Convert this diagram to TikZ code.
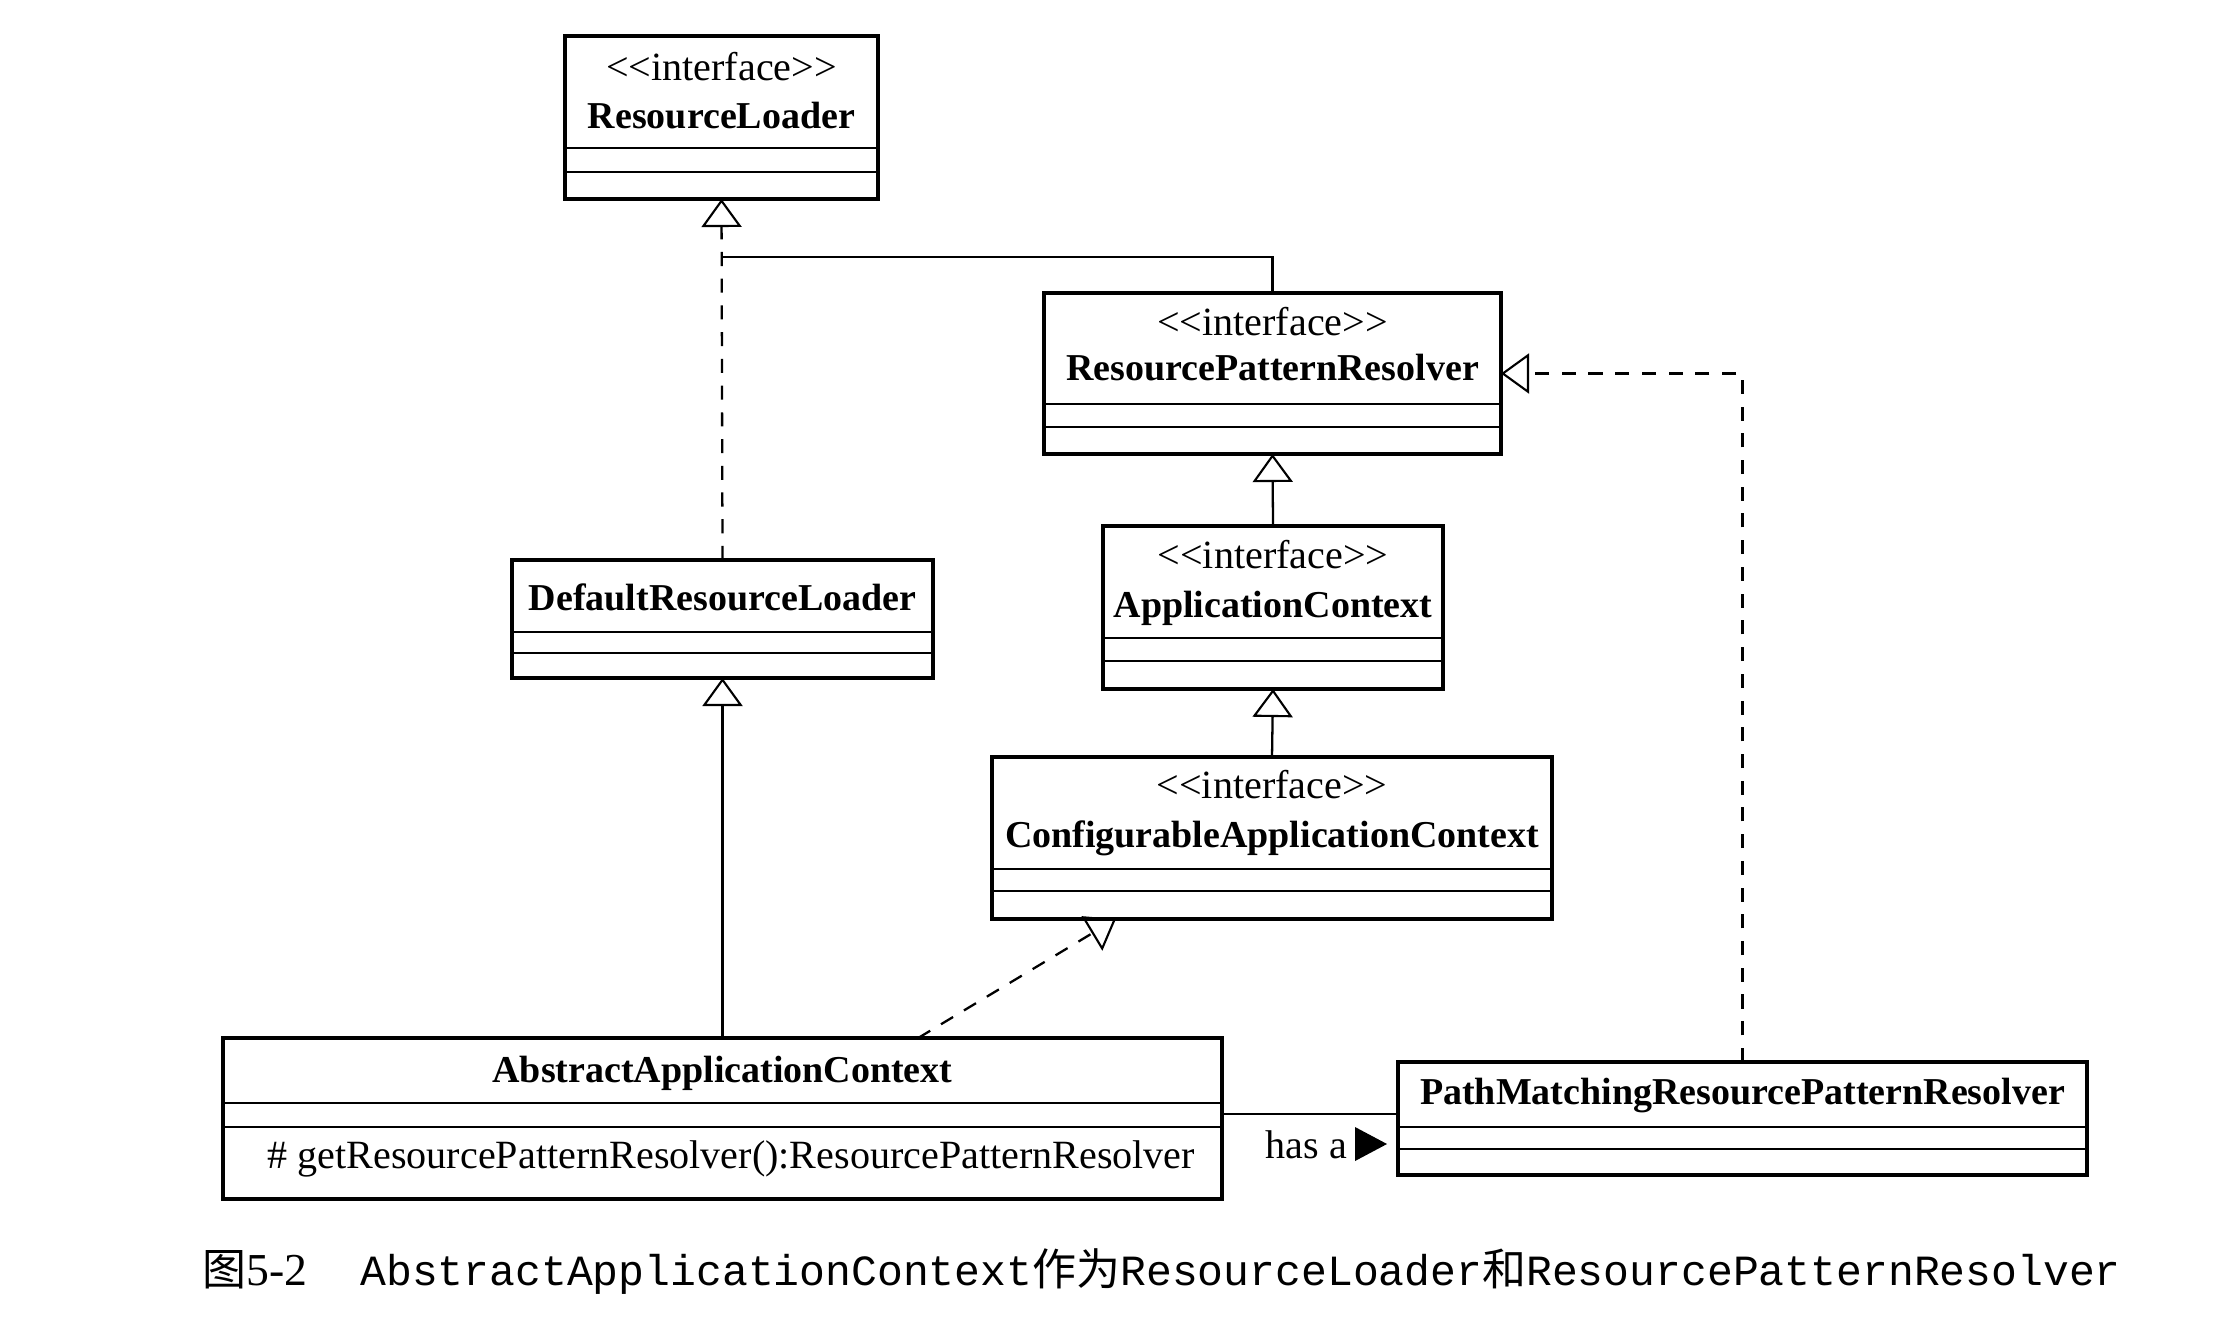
\documentclass[tikz,border=0pt]{standalone}
\usepackage{fontspec}
\setmainfont{Liberation Serif}
\setmonofont{Liberation Mono}
\newfontfamily\cjkfont{Noto Sans CJK SC}
\usetikzlibrary{arrows.meta}

\tikzset{
  classbox/.style={draw, line width=0.95pt, inner sep=0pt, outer sep=0pt},
  divider/.style={line width=0.5pt},
  link/.style={line width=0.65pt},
  dashlink/.style={link, dash pattern=on 4pt off 3.6pt},
  inherit/.style={-{Triangle[open, length=0.28cm, width=0.40cm, line width=0.6pt]}},
  stereo/.style={font=\fontsize{11.4}{13}\selectfont, anchor=base, inner sep=0pt},
  cname/.style={font=\bfseries\fontsize{10.8}{13}\selectfont, anchor=base, inner sep=0pt},
  member/.style={font=\fontsize{11.4}{13}\selectfont, anchor=base west, inner sep=0pt},
}

% class box: name, x1, y1, x2, y2, first divider y, second divider y
\newcommand\umlbox[7]{%
  \node[classbox, minimum width={(#4-#2)*0.01cm}, minimum height={(#5-#3)*0.01cm}]
    (#1) at ({(#2+#4)/2},{(#3+#5)/2}) {};
  \draw[divider] (#2,#6) -- (#4,#6);
  \draw[divider] (#2,#7) -- (#4,#7);
}
% kerns keep the doubled angle brackets from turning into guillemets
\newcommand\stereotype{\textless\kern0pt\textless\kern0pt interface\kern0pt\textgreater\kern0pt\textgreater}

\begin{document}
\begin{tikzpicture}[x=0.01cm, y=-0.01cm]
\useasboundingbox (0,0) rectangle (2231,1321);

% classes
\umlbox{rl}{565}{36}{878}{199}{148}{172}
\node[stereo] (rl-st) at (721.5,80) {\stereotype};
\node[cname] (rl-nm) at (721.5,128) {ResourceLoader};

\umlbox{rpr}{1044}{293}{1501}{454}{404}{427}
\node[stereo] (rpr-st) at (1272.5,335) {\stereotype};
\node[cname] (rpr-nm) at (1272.5,380) {ResourcePatternResolver};

\umlbox{ac}{1103}{526}{1443}{689}{638}{661}
\node[stereo] (ac-st) at (1273,568) {\stereotype};
\node[cname] (ac-nm) at (1273,617) {ApplicationContext};

\umlbox{cac}{992}{757}{1552}{919}{869}{891}
\node[stereo] (cac-st) at (1272,798) {\stereotype};
\node[cname] (cac-nm) at (1272,847) {ConfigurableApplicationContext};

\umlbox{drl}{512}{560}{933}{678}{632}{653}
\node[cname] (drl-nm) at (722.5,610) {DefaultResourceLoader};

\umlbox{aac}{223}{1038}{1222}{1199}{1103}{1127}
\node[cname] (aac-nm) at (722.5,1082) {AbstractApplicationContext};
\node[member] (aac-m) at (267,1168) {\# getResourcePatternResolver():ResourcePatternResolver};

\umlbox{pmr}{1398}{1062}{2087}{1175}{1127}{1149}
\node[cname] (pmr-nm) at (1742.5,1104) {PathMatchingResourcePatternResolver};

% generalization / realization links
\draw[dashlink, inherit] (drl.north) -- (rl.south);
\coordinate (jn) at (721.5,257);
\draw[link] (rpr.north) |- (jn);
\draw[link, inherit] (ac.north) -- (rpr.south);
\draw[link, inherit] (cac.north) -- (ac.south);
\draw[link, inherit] (aac.north) -- (drl.south);
\draw[dashlink, inherit] ([xshift=1.955cm]aac.north) -- ([xshift=-1.56cm]cac.south);
\draw[dashlink, inherit] (pmr.north) |- (rpr.east);

% association
\draw[link] ([yshift=0.045cm]aac.east) -- ([yshift=0.045cm]pmr.west);
\node[member] (has) at (1265,1158) {has a};
\fill (1355,1127) -- (1387,1144) -- (1355,1161) -- cycle;

% caption
\node[anchor=base west, inner sep=0pt] (cap) at (202,1285)
  {{\cjkfont\fontsize{12.5}{14}\selectfont 图}{\fontsize{13}{14}\selectfont 5-2}\hspace{15pt}%
   {\ttfamily\fontsize{12.25}{14}\selectfont AbstractApplicationContext}%
   {\cjkfont\fontsize{12.5}{14}\selectfont 作为}%
   {\ttfamily\fontsize{12.25}{14}\selectfont ResourceLoader}%
   {\cjkfont\fontsize{12.5}{14}\selectfont 和}%
   {\ttfamily\fontsize{12.25}{14}\selectfont ResourcePatternResolver}};
\end{tikzpicture}
\end{document}
